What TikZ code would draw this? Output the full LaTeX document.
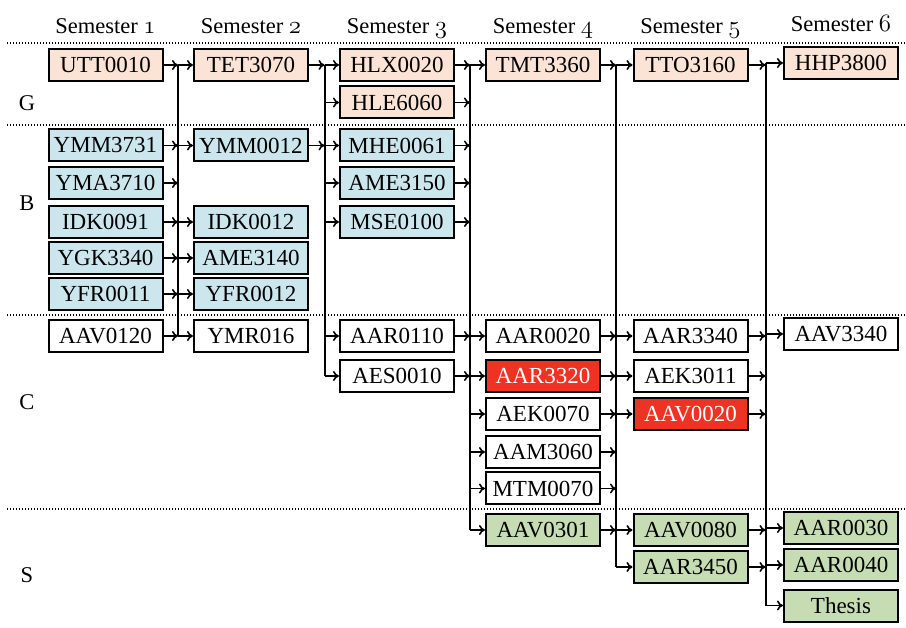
\documentclass[tikz,border=0pt]{standalone}
\usepackage{fontspec}
\setmainfont{Liberation Serif}
\newfontfamily\boxfont{Liberation Serif}
\usetikzlibrary{arrows.meta}
\definecolor{peach}{HTML}{FBE4D5}
\definecolor{lblue}{HTML}{CCE6ED}
\definecolor{lgreen}{HTML}{C6DDB4}
\definecolor{cred}{HTML}{EE3325}
% old-style digits taken from the math italic font
\newcommand\osd[1]{{\fontsize{24}{24}\usefont{OML}{cmm}{m}{it}#1}}
\tikzset{
  course/.style={draw, line width=2pt, minimum width=114pt, minimum height=32pt,
    inner sep=0pt, font=\boxfont\fontsize{23}{23}\selectfont},
  gen/.style={course, fill=peach},
  basic/.style={course, fill=lblue},
  core/.style={course, fill=white},
  hot/.style={course, fill=cred, text=white},
  spec/.style={course, fill=lgreen},
  head/.style={anchor=base, font=\fontsize{22.5}{24}\selectfont},
  rowlab/.style={font=\fontsize{22.5}{24}\selectfont},
  sep/.style={line width=1.3pt, dash pattern=on 1.3pt off 1.7pt},
  bus/.style={line width=2pt},
  flow/.style={line width=1.6pt, -{To[length=6pt,width=10pt]}},
}
\begin{document}
\begin{tikzpicture}[x=1pt,y=-1pt]
\useasboundingbox (0,0) rectangle (906,628);

% semester headings
\node[head] (h1) at (105.5,34) {Semester \osd{1}};
\node[head] (h2) at (251,34) {Semester \osd{2}};
\node[head] (h3) at (397,34) {Semester \osd{3}};
\node[head] (h4) at (543,34) {Semester \osd{4}};
\node[head] (h5) at (690.5,34) {Semester \osd{5}};
\node[head] (h6) at (841,32) {Semester \osd{6}};

% group separators
\foreach \y in {43,125,315,509} \draw[sep] (7,\y) -- (906,\y);

% group labels
\node[rowlab] (lG) at (27,103) {G};
\node[rowlab] (lB) at (27,203) {B};
\node[rowlab] (lC) at (27,402) {C};
\node[rowlab] (lS) at (27,575) {S};

% semester 1
\node[gen]   (UTT0010) at (105.5,65)  {UTT0010};
\node[basic] (YMM3731) at (105.5,145.5) {YMM3731};
\node[basic] (YMA3710) at (105.5,183) {YMA3710};
\node[basic] (IDK0091) at (105.5,222) {IDK0091};
\node[basic] (YGK3340) at (105.5,258) {YGK3340};
\node[basic] (YFR0011) at (105.5,294) {YFR0011};
\node[core]  (AAV0120) at (105.5,336) {AAV0120};

% semester 2
\node[gen]   (TET3070) at (251,65)    {TET3070};
\node[basic] (YMM0012) at (251,145.5) {YMM0012};
\node[basic] (IDK0012) at (251,222)   {IDK0012};
\node[basic] (AME3140) at (251,258)   {AME3140};
\node[basic] (YFR0012) at (251,294)   {YFR0012};
\node[core]  (YMR016)  at (251,336)   {YMR016};

% semester 3
\node[gen]   (HLX0020) at (397,65)    {HLX0020};
\node[gen]   (HLE6060) at (397,102.5) {HLE6060};
\node[basic] (MHE0061) at (397,145.5) {MHE0061};
\node[basic] (AME3150) at (397,183)   {AME3150};
\node[basic] (MSE0100) at (397,222)   {MSE0100};
\node[core]  (AAR0110) at (397,336)   {AAR0110};
\node[core]  (AES0010) at (397,376)   {AES0010};

% semester 4
\node[gen]  (TMT3360) at (543,65)    {TMT3360};
\node[core] (AAR0020) at (543,336)   {AAR0020};
\node[hot]  (AAR3320) at (543,376)   {AAR3320};
\node[core] (AEK0070) at (543,414)   {AEK0070};
\node[core] (AAM3060) at (543,452)   {AAM3060};
\node[core] (MTM0070) at (543,488.5) {MTM0070};
\node[spec] (AAV0301) at (543,530)   {AAV0301};

% semester 5
\node[gen]  (TTO3160) at (690.5,65)  {TTO3160};
\node[core] (AAR3340) at (690.5,336) {AAR3340};
\node[core] (AEK3011) at (690.5,376) {AEK3011};
\node[hot]  (AAV0020) at (690.5,414) {AAV0020};
\node[spec] (AAV0080) at (690.5,530) {AAV0080};
\node[spec] (AAR3450) at (690.5,567) {AAR3450};

% semester 6
\node[gen]  (HHP3800) at (841,63)    {HHP3800};
\node[core] (AAV3340) at (841,334)   {AAV3340};
\node[spec] (AAR0030) at (841,528)   {AAR0030};
\node[spec] (AAR0040) at (841,565)   {AAR0040};
\node[spec] (thesis)  at (841,605.5) {Thesis};

% vertical buses between semesters
\coordinate (b1t) at (178,65);    \coordinate (b1b) at (178,336);
\coordinate (b2t) at (324.5,65);  \coordinate (b2b) at (324.5,376);
\coordinate (b3t) at (470,65);    \coordinate (b3b) at (470,530);
\coordinate (b4t) at (616,65);    \coordinate (b4b) at (616,567);
\coordinate (b5t) at (765.5,63);  \coordinate (b5b) at (765.5,605.5);
\foreach \b in {b1,b2,b3,b4,b5} \draw[bus] (\b t) -- (\b b);

% semester 1 -> 2
\foreach \n in {UTT0010,YMM3731,YMA3710,IDK0091,YGK3340,YFR0011,AAV0120}
  \draw[flow] (\n.east) -- (\n.east -| b1t);
\foreach \n in {TET3070,YMM0012,IDK0012,AME3140,YFR0012,YMR016}
  \draw[flow] (\n.west -| b1t) -- (\n.west);

% semester 2 -> 3
\foreach \n in {TET3070,YMM0012}
  \draw[flow] (\n.east) -- (\n.east -| b2t);
\foreach \n in {HLX0020,HLE6060,MHE0061,AME3150,MSE0100,AAR0110,AES0010}
  \draw[flow] (\n.west -| b2t) -- (\n.west);

% semester 3 -> 4
\foreach \n in {HLX0020,HLE6060,MHE0061,AME3150,MSE0100,AAR0110,AES0010}
  \draw[flow] (\n.east) -- (\n.east -| b3t);
\foreach \n in {TMT3360,AAR0020,AAR3320,AEK0070,AAM3060,MTM0070,AAV0301}
  \draw[flow] (\n.west -| b3t) -- (\n.west);

% semester 4 -> 5
\foreach \n in {TMT3360,AAR0020,AAR3320,AEK0070,AAM3060,MTM0070,AAV0301}
  \draw[flow] (\n.east) -- (\n.east -| b4t);
\foreach \n in {TTO3160,AAR3340,AEK3011,AAV0020,AAV0080,AAR3450}
  \draw[flow] (\n.west -| b4t) -- (\n.west);

% semester 5 -> 6
\foreach \n in {TTO3160,AAR3340,AEK3011,AAV0020,AAV0080,AAR3450}
  \draw[flow] (\n.east) -- (\n.east -| b5t);
\foreach \n in {HHP3800,AAV3340,AAR0030,AAR0040,thesis}
  \draw[flow] (\n.west -| b5t) -- (\n.west);
\end{tikzpicture}
\end{document}
